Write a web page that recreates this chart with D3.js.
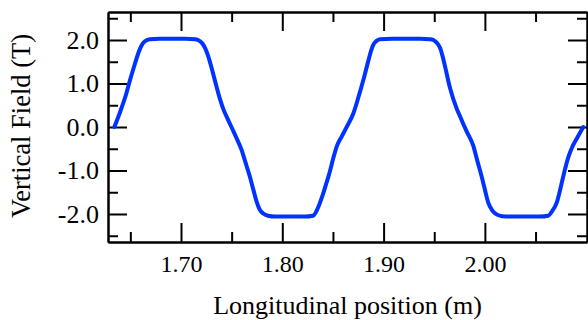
<!DOCTYPE html>
<html>
<head>
<meta charset="utf-8">
<script src="https://cdn.jsdelivr.net/npm/d3@7"></script>
<style>
  body { margin: 0; background: #fff; }
  text { font-family: "Liberation Serif", "Times New Roman", serif; fill: #000; }
</style>
</head>
<body>
<div id="chart"></div>
<script>
// position along the magnet (m) and the vertical field (T)
var posM = [
  1.6342, 1.6398, 1.6464, 1.6497, 1.6546, 1.6579, 1.6612, 1.6644, 1.6694,
  1.6790, 1.6920, 1.7040, 1.7140,
  1.7168, 1.7204, 1.7237, 1.7270, 1.7303, 1.7336, 1.7385, 1.7418, 1.7464,
  1.7514, 1.7553, 1.7599, 1.7632, 1.7681, 1.7714, 1.7747, 1.7780, 1.7812,
  1.7859, 1.7928, 1.8076, 1.8224, 1.8303,
  1.8340, 1.8372, 1.8405, 1.8438, 1.8471, 1.8503, 1.8537, 1.8586, 1.8640,
  1.8701, 1.8747, 1.8800, 1.8849, 1.8876, 1.8898, 1.8930, 1.8964,
  1.9083, 1.9221, 1.9359, 1.9458,
  1.9491, 1.9524, 1.9557, 1.9581, 1.9606, 1.9655, 1.9722, 1.9754, 1.9774,
  1.9820, 1.9885, 1.9922, 1.9968, 2.0001, 2.0033, 2.0070, 2.0116,
  2.0169, 2.0248, 2.0396, 2.0544, 2.0626,
  2.0662, 2.0709, 2.0741, 2.0774, 2.0823, 2.0860, 2.0906, 2.0971
];
var fieldT = [
  0.00, 0.34, 0.80, 1.08, 1.46, 1.70, 1.88, 1.97, 2.02,
  2.03, 2.03, 2.03, 2.02,
  2.00, 1.94, 1.82, 1.62, 1.35, 1.06, 0.64, 0.41, 0.17,
  -0.08, -0.28, -0.53, -0.78, -1.15, -1.44, -1.72, -1.91, -1.99,
  -2.04, -2.06, -2.06, -2.06, -2.04,
  -1.92, -1.74, -1.52, -1.27, -1.01, -0.72, -0.45, -0.22, 0.02,
  0.31, 0.65, 1.08, 1.52, 1.75, 1.89, 1.98, 2.02,
  2.03, 2.03, 2.03, 2.02,
  2.00, 1.94, 1.82, 1.64, 1.40, 0.90, 0.42, 0.25, 0.14,
  -0.10, -0.43, -0.75, -1.14, -1.45, -1.74, -1.91, -2.01,
  -2.05, -2.06, -2.06, -2.06, -2.04,
  -1.94, -1.74, -1.46, -1.13, -0.70, -0.47, -0.27, 0.00
];

var xTicks = [1.70, 1.80, 1.90, 2.00];
var xMinor = [1.65, 1.75, 1.85, 1.95, 2.05];
var yTicks = [-2, -1, 0, 1, 2];
var yMinor = [-2.5, -1.5, -0.5, 0.5, 1.5, 2.5];

var svgWidth = 588;
var svgHeight = 320;
var margin = {top: 12, right: 1, bottom: 78, left: 108};
var width = svgWidth - margin.left - margin.right;
var height = svgHeight - margin.top - margin.bottom;

var svg = d3.select("#chart")
  .append("svg")
  .attr("width", svgWidth)
  .attr("height", svgHeight);

var chartGroup = svg.append("g")
  .attr("transform", `translate(${margin.left}, ${margin.top})`);

var x = d3.scaleLinear().domain([1.62794, 2.10079]).range([0, width]);
var y = d3.scaleLinear().domain([-2.644, 2.644]).range([height, 0]);

// plain hyphen for negatives, like the original
var fmtX = d => d3.format(".2f")(d).replace("\u2212", "-");
var fmtY = d => d3.format(".1f")(d).replace("\u2212", "-");

// major + minor ticks, all pointing into the frame
function addAxis(axisFn, scale, major, minor, fmt, transform, pad, fontSize) {
  var g = chartGroup.append("g").attr("transform", transform);
  g.call(axisFn(scale).tickValues(minor).tickSizeInner(-10).tickSizeOuter(0).tickFormat(""));
  var g2 = chartGroup.append("g").attr("transform", transform);
  g2.call(axisFn(scale).tickValues(major).tickSizeInner(-19).tickSizeOuter(0)
    .tickPadding(pad).tickFormat(fmt || ""));
  [g, g2].forEach(function(s) {
    s.selectAll("path, line").attr("stroke", "#000").attr("stroke-width", 2);
    s.selectAll("text").attr("font-size", fontSize).attr("font-family", "Liberation Serif");
  });
  return g2;
}

addAxis(d3.axisBottom, x, xTicks, xMinor, fmtX, `translate(0, ${height})`, 13, "24px");
addAxis(d3.axisTop, x, xTicks, xMinor, null, "translate(0, 0)", 0, "24px");
addAxis(d3.axisLeft, y, yTicks, yMinor, fmtY, "translate(0, 0)", 9, "26px");
addAxis(d3.axisRight, y, yTicks, yMinor, null, `translate(${width}, 0)`, 0, "26px");

// the field curve
var line = d3.line()
  .x(d => x(d[0]))
  .y(d => y(d[1]))
  .curve(d3.curveMonotoneX);

chartGroup.append("path")
  .datum(d3.zip(posM, fieldT))
  .attr("fill", "none")
  .attr("stroke", "#0033ff")
  .attr("stroke-width", 4)
  .attr("stroke-linejoin", "round")
  .attr("stroke-linecap", "round")
  .attr("d", line);

// axis labels
chartGroup.append("text")
  .attr("transform", "rotate(-90)")
  .attr("x", -height / 2 + 1)
  .attr("y", -margin.left + 30)
  .attr("text-anchor", "middle")
  .attr("font-size", "26.5px")
  .text("Vertical Field (T)");

chartGroup.append("text")
  .attr("x", width / 2)
  .attr("y", height + 72)
  .attr("text-anchor", "middle")
  .attr("font-size", "26px")
  .text("Longitudinal position (m)");
</script>
</body>
</html>
